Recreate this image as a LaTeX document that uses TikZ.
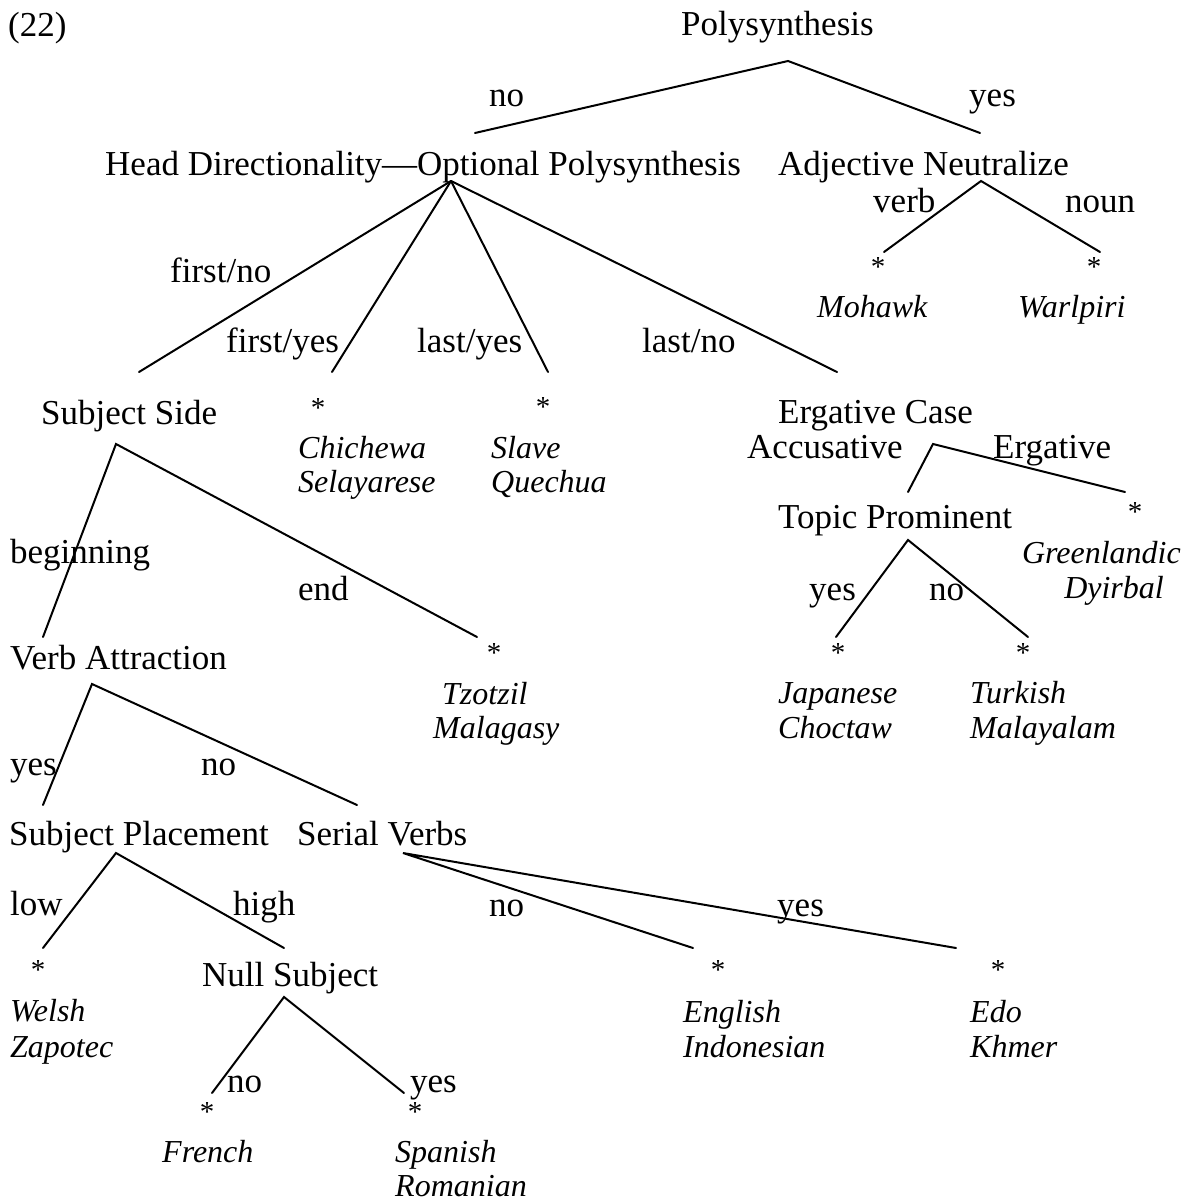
\documentclass[tikz,border=0pt]{standalone}
\usepackage{fontspec}
\setmainfont{Liberation Serif}
\begin{document}
\begin{tikzpicture}[x=1pt,y=-1pt,
  lbl/.style={anchor=base west,inner sep=0pt,font=\fontsize{35}{40}\selectfont},
  lang/.style={anchor=base west,inner sep=0pt,font=\fontsize{32}{36}\selectfont\itshape},
  langr/.style={lang,anchor=base east},
  ast/.style={inner sep=0pt,font=\fontsize{29}{30}\selectfont},
  branch/.style={line width=2pt,line cap=round}]
\useasboundingbox (0,0) rectangle (1185,1201);

% ---- top level ----
\node[lbl] (exnum) at (8,37) {(22)};
\node[lbl] (poly) at (681,36) {Polysynthesis};
\node[lbl] (polyno) at (489,107) {no};
\node[lbl] (polyyes) at (969,107) {yes};
\coordinate (polyA) at (788,61);
\coordinate (polyL) at (475,133);
\coordinate (polyR) at (980,133);
\draw[branch] (polyL) -- (polyA) -- (polyR);

% ---- second level ----
\node[lbl] (headdir) at (105,176) {Head Directionality—Optional Polysynthesis};
\node[lbl] (adjneut) at (778,176) {Adjective Neutralize};

% Adjective Neutralize
\node[lbl] (verb) at (873,212) {verb};
\node[lbl] (noun) at (1065,212) {noun};
\coordinate (adjA) at (981,181);
\coordinate (adjL) at (884,252);
\coordinate (adjR) at (1100,252);
\draw[branch] (adjL) -- (adjA) -- (adjR);
\node[ast] (stMoh) at (878,267) {*};
\node[ast] (stWar) at (1094,267) {*};
\node[lang] (mohawk) at (817,317) {Mohawk};
\node[lang] (warlpiri) at (1018,317) {Warlpiri};

% Head Directionality fan
\node[lbl] (firstno) at (170,282) {first/no};
\node[lbl] (firstyes) at (226,352) {first/yes};
\node[lbl] (lastyes) at (417,352) {last/yes};
\node[lbl] (lastno) at (642,352) {last/no};
\coordinate (hdA) at (451,181);
\coordinate (hd1) at (139,372);
\coordinate (hd2) at (332,372);
\coordinate (hd3) at (548,372);
\coordinate (hd4) at (837,372);
\draw[branch] (hdA) -- (hd1);
\draw[branch] (hdA) -- (hd2);
\draw[branch] (hdA) -- (hd3);
\draw[branch] (hdA) -- (hd4);

\node[ast] (stChi) at (318,408) {*};
\node[lang] (chichewa) at (298,458) {Chichewa};
\node[lang] (selayarese) at (298,492) {Selayarese};
\node[ast] (stSla) at (543,407) {*};
\node[lang] (slave) at (491,458) {Slave};
\node[lang] (quechua) at (491,492) {Quechua};

% ---- Ergative Case ----
\node[lbl] (ergcase) at (778,423) {Ergative Case};
\node[lbl] (accus) at (747,458) {Accusative};
\node[lbl] (ergat) at (993,458) {Ergative};
\coordinate (ecA) at (933,444);
\coordinate (ecL) at (908,492);
\coordinate (ecR) at (1125,492);
\draw[branch] (ecL) -- (ecA) -- (ecR);
\node[ast] (stGre) at (1135,512) {*};
\node[langr] (greenlandic) at (1181,563) {Greenlandic};
\node[langr] (dyirbal) at (1164,598) {Dyirbal};

\node[lbl] (topic) at (778,528) {Topic Prominent};
\node[lbl] (tpyes) at (809,600) {yes};
\node[lbl] (tpno) at (929,600) {no};
\coordinate (tpA) at (908,540);
\coordinate (tpL) at (836,637);
\coordinate (tpR) at (1028,637);
\draw[branch] (tpL) -- (tpA) -- (tpR);
\node[ast] (stJap) at (838,653) {*};
\node[ast] (stTur) at (1023,653) {*};
\node[lang] (japanese) at (778,703) {Japanese};
\node[lang] (choctaw) at (778,738) {Choctaw};
\node[lang] (turkish) at (970,703) {Turkish};
\node[lang] (malayalam) at (970,738) {Malayalam};

% ---- Subject Side ----
\node[lbl] (subjside) at (41,424) {Subject Side};
\node[lbl] (beginning) at (10,563) {beginning};
\node[lbl] (endlbl) at (298,600) {end};
\coordinate (ssA) at (116,444);
\coordinate (ssL) at (43,637);
\coordinate (ssR) at (477,637);
\draw[branch] (ssL) -- (ssA) -- (ssR);
\node[ast] (stTzo) at (494,653) {*};
\node[lang] (tzotzil) at (442,704) {Tzotzil};
\node[lang] (malagasy) at (433,738) {Malagasy};

% ---- Verb Attraction ----
\node[lbl] (verbattr) at (10,669) {Verb Attraction};
\node[lbl] (vayes) at (10,775) {yes};
\node[lbl] (vano) at (201,775) {no};
\coordinate (vaA) at (92,684);
\coordinate (vaL) at (43,805);
\coordinate (vaR) at (357,805);
\draw[branch] (vaL) -- (vaA) -- (vaR);

% ---- Subject Placement ----
\node[lbl] (subjplace) at (9,845) {Subject Placement};
\node[lbl] (low) at (10,915) {low};
\node[lbl] (high) at (233,915) {high};
\coordinate (spA) at (116,853);
\coordinate (spL) at (43,948);
\coordinate (spR) at (284,948);
\draw[branch] (spL) -- (spA) -- (spR);
\node[ast] (stWel) at (38,970) {*};
\node[lang] (welsh) at (10,1021) {Welsh};
\node[lang] (zapotec) at (10,1057) {Zapotec};

% ---- Null Subject ----
\node[lbl] (nullsubj) at (202,986) {Null Subject};
\node[lbl] (nsno) at (227,1092) {no};
\node[lbl] (nsyes) at (410,1092) {yes};
\coordinate (nsA) at (284,997);
\coordinate (nsL) at (212,1093);
\coordinate (nsR) at (404,1093);
\draw[branch] (nsL) -- (nsA) -- (nsR);
\node[ast] (stFre) at (207,1112) {*};
\node[ast] (stSpa) at (415,1112) {*};
\node[lang] (french) at (162,1162) {French};
\node[lang] (spanish) at (395,1162) {Spanish};
\node[lang] (romanian) at (395,1196) {Romanian};

% ---- Serial Verbs ----
\node[lbl] (serial) at (297,845) {Serial Verbs};
\node[lbl] (svno) at (489,916) {no};
\node[lbl] (svyes) at (777,916) {yes};
\coordinate (svA) at (403,853);
\coordinate (svL) at (693,948);
\coordinate (svR) at (956,948);
\draw[branch] (svL) -- (svA) -- (svR);
\node[ast] (stEng) at (718,970) {*};
\node[ast] (stEdo) at (998,970) {*};
\node[lang] (english) at (683,1022) {English};
\node[lang] (indonesian) at (683,1057) {Indonesian};
\node[lang] (edo) at (970,1022) {Edo};
\node[lang] (khmer) at (970,1057) {Khmer};
\end{tikzpicture}
\end{document}
